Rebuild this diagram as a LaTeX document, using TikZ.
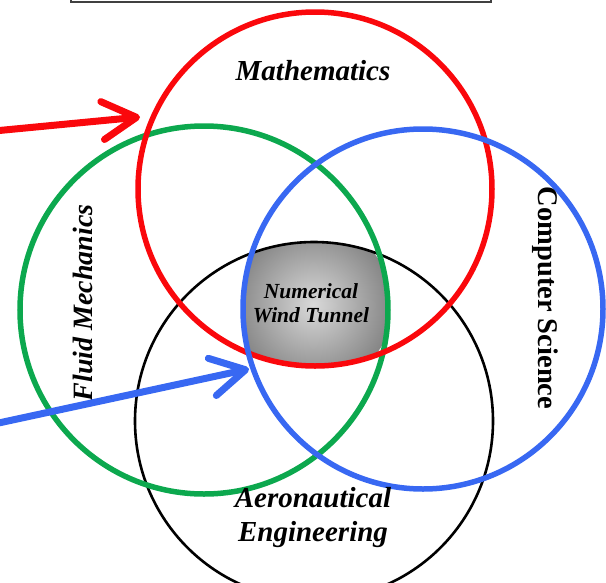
\documentclass[tikz,border=0pt]{standalone}
\usepackage{fontspec}
\setmainfont{Liberation Serif}
\usetikzlibrary{arrows.meta,positioning}
\definecolor{ringred}{RGB}{250,8,12}
\definecolor{ringgreen}{RGB}{12,168,78}
\definecolor{ringblue}{RGB}{56,104,242}

\begin{document}
\begin{tikzpicture}[
    x=1pt, y=-1pt,
    ring/.style={line width=5.5pt},
    field/.style={font=\bfseries\itshape\fontsize{29}{34}\selectfont, align=center, inner sep=0pt},
    pointer/.style={line width=7pt, line cap=round, -{Straight Barb[length=34pt, width=38pt, round]}}
]
    \useasboundingbox (0,0) rectangle (606,582);

    % centres of the four fields
    \coordinate (cmath) at (315,189);
    \coordinate (cfluid) at (204,310);
    \coordinate (ccomp) at (423,309);
    \coordinate (caero) at (314,421);

    % overlap of all four fields
    \begin{scope}
        \clip (cmath) circle (177);
        \clip (cfluid) circle (184);
        \clip (ccomp) circle (180);
        \clip (caero) circle (179);
        \shade[inner color=black!15, outer color=black!48] (313,305) circle (80);
    \end{scope}

    % frame above the diagram
    \draw[black!75, line width=2pt] (71,-10) rectangle (491,2);

    \draw[line width=2.6pt] (caero) circle (179);
    \draw[ring, ringgreen] (cfluid) circle (184);
    \draw[ring, ringred] (cmath) circle (177);
    \draw[ring, ringblue] (ccomp) circle (180);

    \node[field] (maths) at (313,71) {Mathematics};
    \node[field, font=\bfseries\itshape\fontsize{28}{32}\selectfont, rotate=90] (fluid) at (83,303) {Fluid Mechanics};
    \node[field, font=\bfseries\fontsize{28.5}{32}\selectfont, rotate=-90] (comp) at (545,298) {Computer Science};
    \node[field, font=\bfseries\itshape\fontsize{21.5}{24}\selectfont] (nwt) at (311,303) {Numerical\\Wind Tunnel};
    \node[field] (aero) at (313,518) {Aeronautical\\Engineering};

    % pointers from the left
    \coordinate (redfrom) at (-6,131);
    \coordinate (redto) at (140,117);
    \coordinate (bluefrom) at (-6,424);
    \coordinate (blueto) at (249,369);
    \draw[pointer, ringred] (redfrom) -- (redto);
    \draw[pointer, ringblue] (bluefrom) -- (blueto);
\end{tikzpicture}
\end{document}
